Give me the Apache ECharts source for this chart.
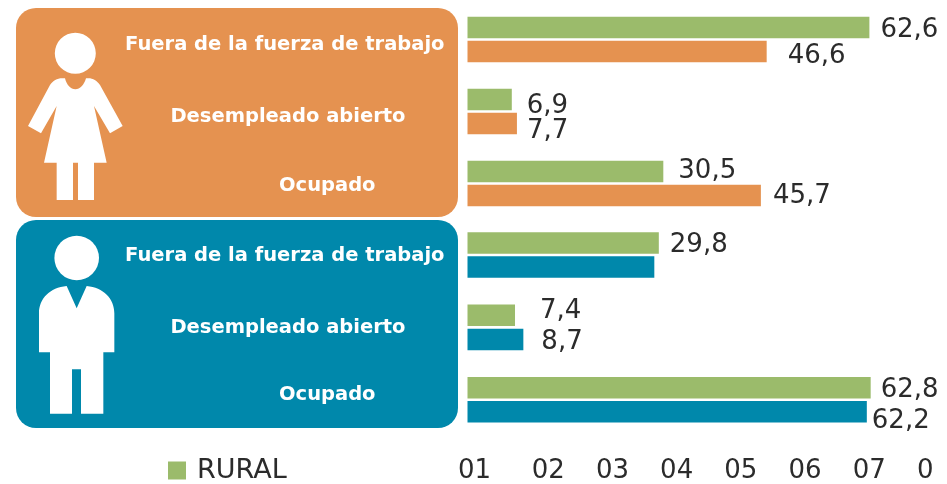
<!DOCTYPE html>
<html><head><meta charset="utf-8">
<style>html,body{margin:0;padding:0;background:#fff}#c{width:947px;height:484px}</style>
<script src="https://cdn.jsdelivr.net/npm/echarts@6/dist/echarts.min.js"></script></head>
<body><div id="c"></div>
<script>
const categories = ['Fuera de la fuerza de trabajo', 'Desempleado abierto', 'Ocupado'];
const womenRural = [62.6, 6.9, 30.5];
const womenUrban = [46.6, 7.7, 45.7];
const menRural = [29.8, 7.4, 62.8];
const menUrban = [29.1, 8.7, 62.2];
const tickLabels = ['01', '02', '03', '04', '05', '06', '07', '0'];
const legendLabels = ['RURAL'];

const GREEN = '#9BBB6B', ORANGE = '#E59250', TEAL = '#0088AB', INK = '#2b2b2b';
const NUM_FONT = '"DejaVu Sans"';

echarts.graphic.registerShape('womanIcon', echarts.graphic.extendPath('M195 235 C200 255 212 268 226 268 C240 268 252 255 258 235 C275 232 290 240 300 255 L368 378 L330 400 L282 318 L320 488 L282 488 L282 600 L234 600 L234 488 L219 488 L219 600 L170 600 L170 488 L132 488 L170 318 L123 400 L84 378 L150 255 C160 240 175 232 195 235 Z', {}));
echarts.graphic.registerShape('manIcon', echarts.graphic.extendPath('M200 213 L230 280 L260 213 C310 218 343 250 343 295 L343 412 L310 412 L310 596 L243 596 L243 463 L216 463 L216 596 L150 596 L150 412 L117 412 L117 295 C117 250 150 218 200 213 Z', {}));

const chart = echarts.init(document.getElementById('c'), null, {renderer: 'canvas'});

function fmt(v) { return v.toFixed(1).replace('.', ','); }
// label nudges [dx, dy] for the hand-placed value labels of the original
const shiftWR = [[1, 3], [5, 7], [5, 0]];
const shiftWU = [[11, 5], [0, 8], [2, 1]];
const shiftMR = [[1, 2], [15, -4], [0, 2]];
const shiftMU = [null, [8, 3], [-5, 9]];

function barSeries(name, values, color, idx, shifts) {
  return {
    name, type: 'bar', xAxisIndex: idx, yAxisIndex: idx,
    barWidth: 21.5, barGap: '12%',
    itemStyle: {color},
    data: values.map((v, i) => ({
      value: v,
      label: shifts[i] ? {show: true, offset: shifts[i]} : {show: false}
    })),
    label: {
      show: true, position: 'right', distance: 10, color: INK,
      fontFamily: NUM_FONT, fontSize: 26,
      formatter: p => fmt(p.value)
    }
  };
}

function richFor(pads) {
  const r = {};
  pads.forEach((p, i) => {
    r['r' + i] = {fontFamily: '"DejaVu Sans"', fontWeight: 'bold', fontSize: 19.5,
      color: '#fff', padding: p};
  });
  return r;
}
function catAxis(idx, pads) {
  return {
    type: 'category', gridIndex: idx, inverse: true, data: categories,
    axisLine: {show: false}, axisTick: {show: false},
    axisLabel: {
      margin: 0, align: 'right', verticalAlign: 'middle',
      formatter: (v, i) => '{r' + i + '|' + v + '}',
      rich: richFor(pads)
    }
  };
}
const leadAxis = {min: 0, max: 70, interval: 10, splitLine: {show: false}, axisLine: {show: false}, axisTick: {show: false}};

const option = {
  animation: false,
  backgroundColor: '#fff',
  legend: {
    data: legendLabels, left: 168, top: 457, padding: 0,
    icon: 'rect', itemWidth: 18, itemHeight: 18,
    textStyle: {fontFamily: NUM_FONT, fontSize: 27, color: INK, padding: [0, 0, 0, 6]}
  },
  grid: [
    {left: 467.5, width: 449.4, top: 3.5, height: 216},
    {left: 467.5, width: 449.4, top: 218.75, height: 220.5}
  ],
  xAxis: [
    Object.assign({type: 'value', gridIndex: 0, axisLabel: {show: false}}, leadAxis),
    Object.assign({type: 'value', gridIndex: 1, axisLabel: {
      margin: 22, align: 'left', alignMinLabel: 'center', alignMaxLabel: 'left', hideOverlap: false,
      showMinLabel: true, showMaxLabel: true,
      fontFamily: NUM_FONT, fontSize: 26, color: INK,
      formatter: v => v === 0 ? '{first|' + tickLabels[0] + '}' : tickLabels[v / 10],
      rich: {first: {fontFamily: NUM_FONT, fontSize: 26, color: INK, padding: [0, 0, 0, 14]}}
    }}, leadAxis)
  ],
  yAxis: [
    catAxis(0, [[10, 23, 0, 0], [10, 62, 0, 0], [4, 92, 0, 0]]),
    catAxis(1, [[2, 23, 0, 0], [2, 62, 0, 0], [0, 92, 10, 0]])
  ],
  series: [
    barSeries('RURAL', womenRural, GREEN, 0, shiftWR),
    barSeries('URBANO', womenUrban, ORANGE, 0, shiftWU),
    barSeries('RURAL', menRural, GREEN, 1, shiftMR),
    barSeries('URBANO', menUrban, TEAL, 1, shiftMU)
  ],
  graphic: [
    {type: 'rect', z: 0, silent: true, shape: {x: 16, y: 8, width: 442, height: 209, r: 20}, style: {fill: ORANGE}},
    {type: 'rect', z: 0, silent: true, shape: {x: 16, y: 220, width: 442, height: 208, r: 20}, style: {fill: TEAL}},
    {type: 'circle', z: 1, silent: true, shape: {cx: 75.3, cy: 53.3, r: 20.5}, style: {fill: '#fff'}},
    {type: 'womanIcon', z: 1, silent: true, scaleX: 1/3, scaleY: 1/3, x: 0, y: 0, style: {fill: '#fff'}},
    {type: 'circle', z: 1, silent: true, shape: {cx: 76.7, cy: 258, r: 22.3}, style: {fill: '#fff'}},
    {type: 'manIcon', z: 1, silent: true, scaleX: 1/3, scaleY: 1/3, x: 0, y: 215, style: {fill: '#fff'}}
  ]
};
chart.setOption(option);
</script></body></html>
